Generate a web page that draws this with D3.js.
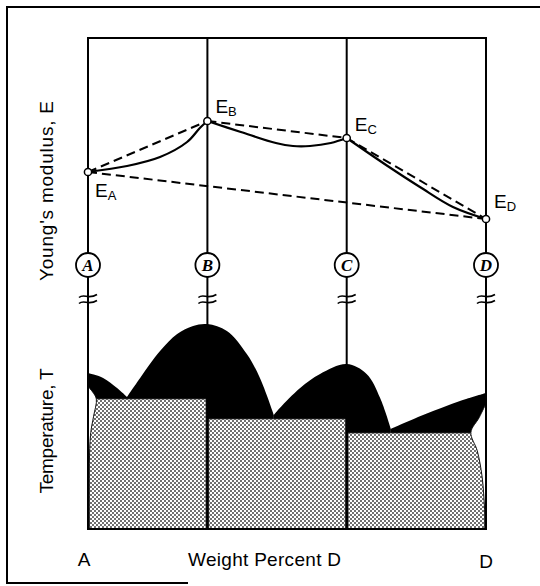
<!DOCTYPE html>
<html>
<head>
<meta charset="utf-8">
<script src="https://cdn.jsdelivr.net/npm/d3@7"></script>
<style>
body { margin: 0; background: #fff; }
text { font-family: "Liberation Sans Narrow", "Arial Narrow", "Liberation Sans", Arial, sans-serif; }
</style>
</head>
<body>
<svg width="540" height="586"></svg>
<script>
// phases and their compositions (weight percent D)
const phases = ["A", "B", "C", "D"];
const phasePct = [0, 30, 65, 100];

// Young's modulus at each pure phase (arbitrary units)
const modulus = [4.4, 6.95, 6.1, 2.05];

// measured modulus between phases [pct, E]
const curveAB = [[0, 4.4], [9.8, 4.7], [18.1, 5.15], [24.9, 5.9], [28.1, 6.6], [30, 6.95]];
const curveBC = [[30, 6.95], [38.4, 6.4], [47.2, 5.85], [51.5, 5.7], [55.8, 5.7], [61, 5.85], [65, 6.1]];
const curveCD = [[65, 6.1], [74.9, 4.75], [83.4, 3.65], [91.7, 2.65], [100, 2.05]];

// liquidus domes [pct, T]
const domeA = [[0, 67.8], [3.8, 65.7], [7.3, 61.3], [9.8, 57.4]];
const domeB = [[9.8, 57.4], [13.1, 65.7], [18.1, 77.4], [22.4, 84.8], [26.4, 88.3], [30, 89.1],
               [34.9, 86.1], [39.9, 76.1], [43.2, 65.7], [46.7, 49.6]];
const domeC = [[46.7, 49.6], [48.2, 52.6], [53.3, 61.3], [58.3, 67.4], [65, 71.7],
               [70, 67.4], [73.4, 57], [76.1, 43.5]];
const domeD = [[76.1, 43.5], [83.4, 49], [90.2, 53.6], [95.2, 56.6], [100, 59.1]];

// solid phase fields
const fieldLeft = [0, 30, 65];
const fieldRight = [30, 65, 100];
const fieldTop = [56.5, 47.8, 41.7];

// terminal solid solution boundaries
const alphaEdge = [[0, 62], [1.2, 59.5], [2.1, 56.5], [1.4, 49], [0.7, 42], [0.35, 30], [0.3, 0]];
const deltaEdge = [[100, 54.6], [98.3, 48.5], [96.2, 42], [97.8, 34], [99, 23], [99.6, 10], [99.8, 0]];

const svg = d3.select("svg");

const x = d3.scaleLinear().domain([0, 100]).range([88, 486]);
const yE = d3.scaleLinear().domain([0, 10]).range([260, 60]);
const yT = d3.scaleLinear().domain([0, 100]).range([529, 299]);

const plotTop = 38, circleY = 265, breakY = 296;

// stipple pattern for solid fields
const pat = svg.append("defs").append("pattern")
    .attr("id", "stipple")
    .attr("width", 4).attr("height", 4)
    .attr("patternUnits", "userSpaceOnUse");
pat.append("rect").attr("width", 4).attr("height", 4).attr("fill", "#fff");
pat.append("circle").attr("cx", 1).attr("cy", 1).attr("r", 0.95).attr("fill", "#333");
pat.append("circle").attr("cx", 3).attr("cy", 3).attr("r", 0.95).attr("fill", "#333");

// outer frame
svg.append("path")
    .attr("d", "M540,7 H7 V583 H188")
    .attr("fill", "none").attr("stroke", "#000").attr("stroke-width", 2);

// liquidus domes filled black
let dome = d3.area()
    .x(d => x(d[0]))
    .y0(yT(0))
    .y1(d => yT(d[1]))
    .curve(d3.curveCatmullRom);

svg.append("g")
    .selectAll("path")
    .data([domeA, domeB, domeC, domeD])
    .join("path")
    .attr("d", dome)
    .attr("fill", "#000");

// solid fields
svg.append("g")
    .selectAll("rect")
    .data(fieldTop)
    .join("rect")
    .attr("x", (d, i) => x(fieldLeft[i]) + 1.5)
    .attr("width", (d, i) => x(fieldRight[i]) - x(fieldLeft[i]) - 3)
    .attr("y", d => yT(d))
    .attr("height", d => yT(0) - yT(d))
    .attr("fill", "url(#stipple)")
    .attr("stroke", "#555")
    .attr("stroke-width", 0.6);

// terminal solid solutions (white slivers)
let edge = d3.line().x(d => x(d[0])).y(d => yT(d[1])).curve(d3.curveCatmullRom);
svg.append("path")
    .attr("d", edge(alphaEdge) + "L" + x(0) + "," + yT(0) + "Z")
    .attr("fill", "#fff").attr("stroke", "#111").attr("stroke-width", 1);
svg.append("path")
    .attr("d", edge(deltaEdge) + "L" + x(100) + "," + yT(0) + "Z")
    .attr("fill", "#fff").attr("stroke", "#111").attr("stroke-width", 1);

// vertical composition lines and top line
svg.append("g")
    .selectAll("line")
    .data(phasePct)
    .join("line")
    .attr("x1", d => x(d)).attr("x2", d => x(d))
    .attr("y1", plotTop).attr("y2", yT(0))
    .attr("stroke", "#000").attr("stroke-width", 2);

svg.append("line")
    .attr("x1", x(0) - 1).attr("x2", x(100) + 1)
    .attr("y1", plotTop).attr("y2", plotTop)
    .attr("stroke", "#000").attr("stroke-width", 2.2);

svg.append("line")
    .attr("x1", x(0) - 1).attr("x2", x(100) + 1)
    .attr("y1", yT(0)).attr("y2", yT(0))
    .attr("stroke", "#000").attr("stroke-width", 2);

// axis breaks
let brk = svg.append("g");
phasePct.forEach(p => {
    [0, 6].forEach(dy => {
        let cx = x(p), cy = breakY + dy;
        brk.append("path")
            .attr("d", `M${cx - 9},${cy + 1.5} C${cx - 4},${cy - 3} ${cx},${cy + 4} ${cx + 9},${cy - 1.5}`)
            .attr("fill", "none").attr("stroke", "#000").attr("stroke-width", 1.6);
    });
});

// phase markers
let marks = svg.append("g")
    .selectAll("g")
    .data(phases)
    .join("g")
    .attr("transform", (d, i) => `translate(${x(phasePct[i])},${circleY})`);
marks.append("circle")
    .attr("r", 12)
    .attr("fill", "#fff").attr("stroke", "#000").attr("stroke-width", 1.8);
marks.append("text")
    .attr("text-anchor", "middle")
    .attr("dy", 6)
    .style("font-family", "'Liberation Serif', 'Times New Roman', serif")
    .style("font-style", "italic")
    .style("font-weight", "bold")
    .style("font-size", "17px")
    .text(d => d);

// dashed rule-of-mixtures lines
let line = d3.line().x(d => x(d[0])).y(d => yE(d[1]));
let chords = [[0, 1], [1, 2], [2, 3], [0, 3]];
svg.append("g")
    .selectAll("path")
    .data(chords)
    .join("path")
    .attr("d", c => line(c.map(i => [phasePct[i], modulus[i]])))
    .attr("fill", "none")
    .attr("stroke", "#000")
    .attr("stroke-width", 2)
    .attr("stroke-dasharray", "9,5");

// measured modulus
let smooth = d3.line().x(d => x(d[0])).y(d => yE(d[1])).curve(d3.curveCatmullRom);
svg.append("g")
    .selectAll("path")
    .data([curveAB, curveBC, curveCD])
    .join("path")
    .attr("d", smooth)
    .attr("fill", "none")
    .attr("stroke", "#000")
    .attr("stroke-width", 2.2);

svg.append("g")
    .selectAll("circle")
    .data(modulus)
    .join("circle")
    .attr("cx", (d, i) => x(phasePct[i]))
    .attr("cy", d => yE(d))
    .attr("r", 3.6)
    .attr("fill", "#fff").attr("stroke", "#000").attr("stroke-width", 1.5);

// E labels
const labelDx = [7, 8, 8, 8];
const labelDy = [25, -8, -7, -11];
let elab = svg.append("g")
    .selectAll("text")
    .data(phases)
    .join("text")
    .attr("x", (d, i) => x(phasePct[i]) + labelDx[i])
    .attr("y", (d, i) => yE(modulus[i]) + labelDy[i])
    .style("font-size", "19px");
elab.append("tspan").text("E");
elab.append("tspan").attr("dy", 3).style("font-size", "13px").text(d => d);

// axis titles
svg.append("text")
    .attr("transform", "translate(53,191) rotate(-90)")
    .attr("text-anchor", "middle")
    .attr("textLength", 180).attr("lengthAdjust", "spacing")
    .style("font-size", "19px")
    .text("Young's  modulus,  E");

svg.append("text")
    .attr("transform", "translate(53,431) rotate(-90)")
    .attr("text-anchor", "middle")
    .attr("textLength", 125).attr("lengthAdjust", "spacing")
    .style("font-size", "19px")
    .text("Temperature,  T");

svg.append("text")
    .attr("x", x(0) - 4).attr("y", 566)
    .attr("text-anchor", "middle")
    .style("font-size", "19px")
    .text("A");
svg.append("text")
    .attr("x", x(100)).attr("y", 568)
    .attr("text-anchor", "middle")
    .style("font-size", "19px")
    .text("D");
svg.append("text")
    .attr("x", 188).attr("y", 566)
    .attr("textLength", 153).attr("lengthAdjust", "spacing")
    .style("font-size", "19px")
    .text("Weight  Percent D");
</script>
</body>
</html>
